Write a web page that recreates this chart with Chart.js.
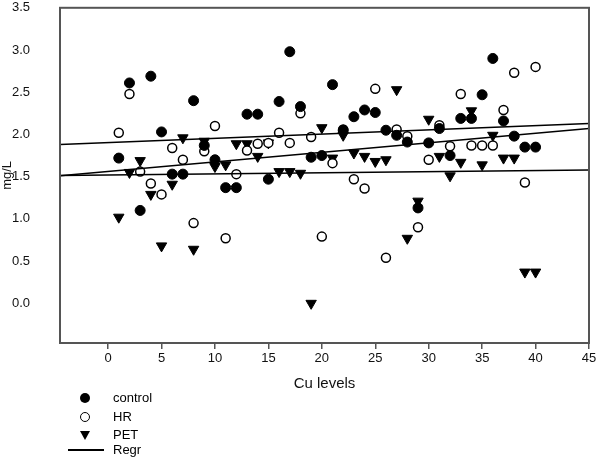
<!DOCTYPE html>
<html>
<head>
<meta charset="utf-8">
<script src="https://cdn.jsdelivr.net/npm/chart.js@4.4.1/dist/chart.umd.min.js"></script>
<style>
  body { margin: 0; background: #fff; }
  #wrap { position: relative; width: 600px; height: 458px; font-family: "Liberation Sans", Arial, sans-serif; }
  #legend .txt { position: absolute; left: 113px; font-size: 13px; color: #000; line-height: 16px; }
  #legend .sym { position: absolute; }
  .dot { width: 10px; height: 10px; border-radius: 50%; background: #000; }
  .ring { width: 8px; height: 8px; border-radius: 50%; border: 1.5px solid #000; background: #fff; }
  .tri { width: 0; height: 0; border-left: 5px solid transparent; border-right: 5px solid transparent; border-top: 9px solid #000; }
  .ln { width: 36px; height: 1.5px; background: #000; }
</style>
</head>
<body>
<div id="wrap">
  <canvas id="mycanvas" width="600" height="458"></canvas>
  <div id="legend">
    <div class="sym dot" style="left:80px;top:393px"></div><div class="txt" style="top:390px">control</div>
    <div class="sym ring" style="left:80px;top:412px"></div><div class="txt" style="top:409px">HR</div>
    <div class="sym tri" style="left:80px;top:431px"></div><div class="txt" style="top:427px">PET</div>
    <div class="sym ln" style="left:68px;top:449px"></div><div class="txt" style="top:442px">Regr</div>
  </div>
</div>
<script>
// Cu levels (x) and measured mg/L per group
var cuLevels = [1,2,3,4,5,6,7,8,9,10,11,12,13,14,15,16,17,18,19,20,
                21,22,23,24,25,26,27,28,29,30,31,32,33,34,35,36,37,38,39,40];
var control = [1.72,2.61,1.10,2.69,2.03,1.53,1.53,2.40,1.87,1.70,1.37,1.37,2.24,2.24,1.47,2.39,2.98,2.33,1.73,1.75,
               2.59,2.05,2.21,2.29,2.26,2.05,1.99,1.91,1.13,1.90,2.07,1.75,2.19,2.19,2.47,2.90,2.16,1.98,1.85,1.85];
var hr = [2.02,2.48,1.56,1.42,1.29,1.84,1.70,0.95,1.80,2.10,0.77,1.53,1.81,1.89,1.90,2.02,1.90,2.25,1.97,0.79,
          1.66,2.06,1.47,1.36,2.54,0.54,2.06,1.98,0.90,1.70,2.11,1.86,2.48,1.87,1.87,1.87,2.29,2.73,1.43,2.80];
var pet = [1.02,1.55,1.69,1.29,0.68,1.41,1.96,0.64,1.92,1.62,1.64,1.89,1.89,1.74,1.90,1.56,1.56,1.54,0.00,2.08,
           1.72,1.99,1.78,1.74,1.68,1.70,2.53,0.77,1.21,2.18,1.74,1.51,1.67,2.28,1.64,1.99,1.72,1.72,0.37,0.37];

// regression lines, read at the two plot edges
var regrX = [-4.5, 45];
var regrTop = [1.88, 2.13];
var regrMid = [1.51, 2.07];
var regrLow = [1.515, 1.58];

var xTicks = [0,5,10,15,20,25,30,35,40,45];
var yTicks = [0,0.5,1,1.5,2,2.5,3,3.5];

function pts(ys) {
  var out = [];
  for (var i in ys) out.push({x: cuLevels[i], y: ys[i]});
  return out;
}
function line(ys) {
  return [{x: regrX[0], y: ys[0]}, {x: regrX[1], y: ys[1]}];
}
function regrSet(ys) {
  return { type: 'line', data: line(ys), borderColor: '#000', borderWidth: 1.5,
           pointRadius: 0, fill: false, showLine: true };
}

/* box around the plot area */
var frame = {
  id: 'frame',
  afterDatasetsDraw: function(chart) {
    var a = chart.chartArea, c = chart.ctx;
    c.save();
    c.strokeStyle = '#555';
    c.lineWidth = 2;
    c.strokeRect(a.left, a.top, a.right - a.left, a.bottom - a.top);
    c.restore();
  }
};

Chart.defaults.font.family = '"Liberation Sans", Arial, sans-serif';
Chart.defaults.color = '#111';

var ctx = document.getElementById('mycanvas');
new Chart(ctx, {
  type: 'scatter',
  data: {
    datasets: [
      regrSet(regrTop),
      regrSet(regrMid),
      regrSet(regrLow),
      { label: 'control', data: pts(control), pointStyle: 'circle', pointRadius: 5,
        backgroundColor: '#000', borderColor: '#000', borderWidth: 1 },
      { label: 'HR', data: pts(hr), pointStyle: 'circle', pointRadius: 4.5,
        backgroundColor: '#fff', borderColor: '#000', borderWidth: 1.5 },
      { label: 'PET', data: pts(pet), pointStyle: 'triangle', rotation: 180, pointRadius: 6,
        backgroundColor: '#000', borderColor: '#000', borderWidth: 1 }
    ]
  },
  options: {
    responsive: false,
    animation: false,
    layout: { padding: { left: 0, top: 0, right: 11, bottom: 65 } },
    plugins: { legend: { display: false }, tooltip: { enabled: false } },
    scales: {
      x: {
        type: 'linear', min: -4.5, max: 45,
        afterFit: function(s) { s.height = 50; },
        afterBuildTicks: function(s) { s.ticks = xTicks.map(function(v) { return {value: v}; }); },
        grid: { drawOnChartArea: false, drawTicks: true, tickLength: 6, color: '#555', lineWidth: 1.5 },
        border: { display: false },
        ticks: { padding: 2, font: { size: 13 }, maxRotation: 0 },
        title: { display: true, text: 'Cu levels', font: { size: 15 }, padding: 0 }
      },
      y: {
        type: 'linear', min: -0.47, max: 3.5,
        afterFit: function(s) { s.width = 60; },
        afterBuildTicks: function(s) { s.ticks = yTicks.map(function(v) { return {value: v}; }); },
        grid: { drawOnChartArea: false, drawTicks: true, tickLength: 30, color: 'rgba(0,0,0,0)' },
        border: { display: false },
        ticks: { padding: 0, font: { size: 13 }, callback: function(v) { return v.toFixed(1); } },
        title: { display: true, text: 'mg/L', font: { size: 13 }, padding: 0 }
      }
    }
  },
  plugins: [frame]
});
</script>
</body>
</html>
